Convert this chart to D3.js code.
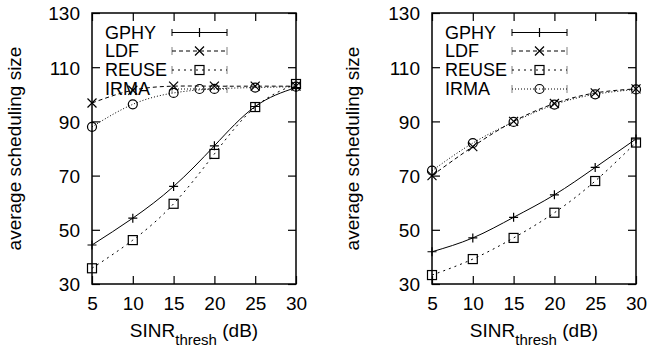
<!DOCTYPE html>
<html><head><meta charset="utf-8">
<script src="https://cdn.jsdelivr.net/npm/d3@7"></script>
<style>
html,body{margin:0;padding:0;background:#fff;}
text{font-family:"Liberation Sans",Arial,Helvetica,sans-serif;fill:#000;}
</style></head>
<body>
<svg id="chart" width="650" height="349"></svg>
<script>
const xValues = [5, 10, 15, 20, 25, 30];
const xTicks = [5, 10, 15, 20, 25, 30];
const yTicks = [30, 50, 70, 90, 110, 130];
const seriesNames = ["GPHY", "LDF", "REUSE", "IRMA"];

const leftGPHY  = [44.4, 54.3, 66.0, 81.0, 95.5, 102.5];
const leftLDF   = [96.8, 101.5, 103.0, 103.0, 103.0, 103.0];
const leftREUSE = [35.8, 46.2, 59.6, 78.0, 95.3, 103.8];
const leftIRMA  = [88.0, 96.3, 100.5, 102.0, 102.5, 102.8];

const rightGPHY  = [41.9, 47.0, 54.6, 62.9, 73.0, 83.5];
const rightLDF   = [70.0, 80.7, 90.0, 96.6, 100.5, 102.0];
const rightREUSE = [33.3, 39.2, 47.0, 56.3, 68.0, 82.2];
const rightIRMA  = [71.8, 82.0, 89.8, 96.2, 100.0, 101.8];

const xLabelMain = "SINR", xLabelSub = "thresh", xLabelTail = " (dB)";
const yLabel = "average scheduling size";

const styles = {
  GPHY:  {dash: null,  marker: "plus"},
  LDF:   {dash: "4,3", marker: "cross"},
  REUSE: {dash: "2,4", marker: "square"},
  IRMA:  {dash: "1,2", marker: "circle"}
};

const svg = d3.select("#chart");
const FS = 19, LFS = 18;

function drawMarker(g, type, cx, cy) {
  const s = 4.5;
  if (type === "plus") {
    g.append("path").attr("d", `M${cx-s},${cy}H${cx+s}M${cx},${cy-s}V${cy+s}`)
      .attr("stroke", "#000").attr("stroke-width", 1.2).attr("fill", "none");
  } else if (type === "cross") {
    g.append("path").attr("d", `M${cx-s},${cy-s}L${cx+s},${cy+s}M${cx-s},${cy+s}L${cx+s},${cy-s}`)
      .attr("stroke", "#000").attr("stroke-width", 1.2).attr("fill", "none");
  } else if (type === "square") {
    g.append("rect").attr("x", cx-s).attr("y", cy-s).attr("width", 2*s).attr("height", 2*s)
      .attr("stroke", "#000").attr("stroke-width", 1.2).attr("fill", "none");
  } else {
    g.append("circle").attr("cx", cx).attr("cy", cy).attr("r", s)
      .attr("stroke", "#000").attr("stroke-width", 1.2).attr("fill", "none");
  }
}

function panel(left, right, data, labelX) {
  const top = 13, bottom = 284;
  const x = d3.scaleLinear().domain([5, 30]).range([left, right]);
  const y = d3.scaleLinear().domain([30, 130]).range([bottom, top]);
  const g = svg.append("g");
  const tickLen = 8;

  const ax = g.append("g").attr("transform", `translate(0,${bottom})`)
    .call(d3.axisBottom(x).tickValues(xTicks).tickSize(-tickLen).tickPadding(13).tickFormat(d3.format("d")));
  const axT = g.append("g").attr("transform", `translate(0,${top})`)
    .call(d3.axisTop(x).tickValues(xTicks).tickSize(-tickLen).tickFormat(""));
  const ay = g.append("g").attr("transform", `translate(${left},0)`)
    .call(d3.axisLeft(y).tickValues(yTicks).tickSize(-tickLen).tickPadding(12).tickFormat(d3.format("d")));
  const ayR = g.append("g").attr("transform", `translate(${right},0)`)
    .call(d3.axisRight(y).tickValues(yTicks).tickSize(-tickLen).tickFormat(""));
  [ax, axT, ay, ayR].forEach(a => {
    a.select(".domain").remove();
    a.selectAll(".tick line").attr("stroke", "#000").attr("stroke-width", 1.2);
    a.selectAll("text").attr("font-size", FS).attr("fill", "#000")
      .style("font-family", '"Liberation Sans",Arial,sans-serif');
  });
  ay.selectAll("text").attr("dy", "0.36em");
  ax.selectAll("text").attr("dy", "0.71em");

  g.append("rect").attr("x", left).attr("y", top).attr("width", right-left).attr("height", bottom-top)
    .attr("fill", "none").attr("stroke", "#000").attr("stroke-width", 1.5);

  const xt = g.append("text").attr("x", (left+right)/2).attr("y", 337)
    .attr("text-anchor", "middle").attr("font-size", FS);
  xt.append("tspan").text(xLabelMain);
  xt.append("tspan").attr("dy", 8).attr("font-size", 15).text(xLabelSub);
  xt.append("tspan").attr("dy", -8).text(xLabelTail);

  g.append("text").attr("transform", `translate(${labelX},${(top+bottom)/2}) rotate(-90)`)
    .attr("text-anchor", "middle").attr("font-size", FS).text(yLabel);

  const legText = left + 13, legL = left + 80, legR = left + 135, legM = (legL+legR)/2;
  const rowsY = [32.5, 51, 70, 89];
  const lg = g.append("g");
  seriesNames.forEach((name, i) => {
    const st = styles[name];
    const t = lg.append("text").attr("x", legText).attr("y", rowsY[i]).attr("dy", "0.36em")
      .attr("font-size", LFS).text(name);
    const w = t.node().getComputedTextLength();
    if (legText + w > legL - 4) t.attr("x", legL - 4 - w);
    lg.append("line").attr("x1", legL).attr("x2", legR).attr("y1", rowsY[i]).attr("y2", rowsY[i])
      .attr("stroke", "#000").attr("stroke-width", 1).attr("stroke-dasharray", st.dash);
    [legL, legR].forEach(ex => lg.append("line").attr("x1", ex).attr("x2", ex)
      .attr("y1", rowsY[i]-3.5).attr("y2", rowsY[i]+3.5)
      .attr("stroke", "#000").attr("stroke-width", 1).attr("stroke-dasharray", st.dash ? "1,1" : null));
    drawMarker(lg, st.marker, legM, rowsY[i]);
  });

  const line = d3.line().x((d, i) => x(xValues[i])).y(d => y(d)).curve(d3.curveNatural);
  seriesNames.forEach(name => {
    const st = styles[name];
    g.append("path").datum(data[name]).attr("d", line).attr("fill", "none")
      .attr("stroke", "#000").attr("stroke-width", 1).attr("stroke-dasharray", st.dash);
  });
  seriesNames.forEach(name => {
    const st = styles[name];
    data[name].forEach((v, i) => drawMarker(g, st.marker, x(xValues[i]), y(v)));
  });
}

panel(92, 296, {GPHY: leftGPHY, LDF: leftLDF, REUSE: leftREUSE, IRMA: leftIRMA}, 21);
panel(432, 636, {GPHY: rightGPHY, LDF: rightLDF, REUSE: rightREUSE, IRMA: rightIRMA}, 359);
</script>
</body></html>
